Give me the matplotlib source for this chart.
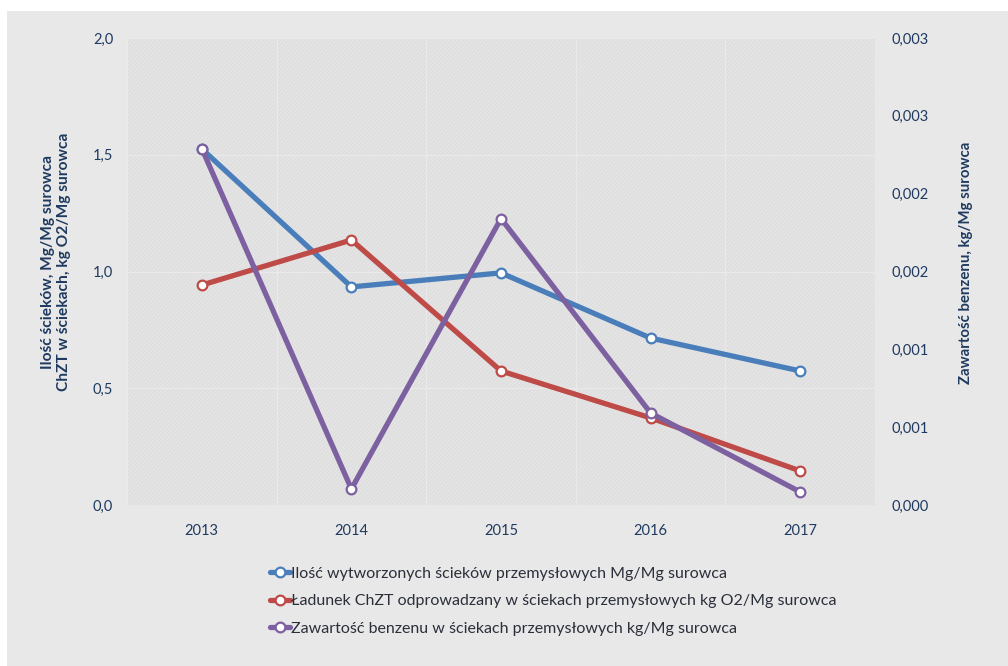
import matplotlib.pyplot as plt
from matplotlib.patches import Rectangle
from matplotlib.ticker import FuncFormatter, MultipleLocator
import numpy as np

years = ["2013", "2014", "2015", "2016", "2017"]
scieki = [1.525, 0.934, 0.994, 0.715, 0.574]
chzt = [0.942, 1.135, 0.574, 0.373, 0.146]
benzen = [0.00229, 0.000103, 0.00184, 0.000591, 0.0000835]

labels = [
    "Ilość wytworzonych ścieków przemysłowych Mg/Mg surowca",
    "Ładunek ChZT odprowadzany w ściekach przemysłowych kg O2/Mg surowca",
    "Zawartość benzenu w ściekach przemysłowych kg/Mg surowca",
]
colors = ["#4a7ebb", "#be4b48", "#7d60a0"]
txt = "#1f3a60"

plt.rcParams['font.family'] = ['Lato', 'DejaVu Sans']
plt.rcParams['hatch.color'] = "#dcdcdc"
plt.rcParams['hatch.linewidth'] = 0.6

fig = plt.figure(figsize=(10.08, 6.66), dpi=100)
fig.patch.set_facecolor("white")
fig.patches.append(Rectangle((7 / 1008, 0), 1, 1 - 11 / 666, transform=fig.transFigure,
                             facecolor="#e8e8e8", edgecolor="none", zorder=-10))

ax = fig.add_axes([127 / 1008, 1 - 505 / 666, 748 / 1008, 467 / 666])
ax.set_facecolor("#e4e4e4")
ax.add_patch(Rectangle((0, 0), 1, 1, transform=ax.transAxes, facecolor="none",
                       hatch="////////", linewidth=0, zorder=0))

x = np.arange(len(years))
style = dict(linewidth=3.8, marker="o", markersize=7, markerfacecolor="white",
             markeredgewidth=1.6, solid_capstyle="round", zorder=3)
l1, = ax.plot(x, scieki, color=colors[0], markeredgecolor=colors[0], label=labels[0], **style)
l2, = ax.plot(x, chzt, color=colors[1], markeredgecolor=colors[1], label=labels[1], **style)

ax.set_xlim(-0.5, len(years) - 0.5)
ax.set_ylim(0, 2.0)
ax.yaxis.set_major_locator(MultipleLocator(0.5))
ax.yaxis.set_major_formatter(FuncFormatter(lambda v, p: f"{v:.1f}".replace(".", ",")))
ax.set_xticks(x)
ax.set_xticklabels(years)
ax.set_xticks(np.arange(-0.5, len(years), 1.0), minor=True)
ax.grid(True, which="minor", axis="x", color="#eaeaea", linewidth=0.8)
ax.grid(True, which="major", axis="y", color="#eaeaea", linewidth=0.8)
ax.tick_params(which="both", length=0)
ax.tick_params(axis="x", pad=14, labelsize=10.5, labelcolor=txt)
ax.tick_params(axis="y", pad=10, labelsize=10.5, labelcolor=txt)
for s in ax.spines.values():
    s.set_visible(False)
ax.set_axisbelow(True)

ax2 = ax.twinx()
l3, = ax2.plot(x, benzen, color=colors[2], markeredgecolor=colors[2], label=labels[2], **style)
ax2.set_ylim(0, 0.003)
ax2.yaxis.set_major_locator(MultipleLocator(0.0005))
ax2.yaxis.set_major_formatter(FuncFormatter(lambda v, p: f"{v:.3f}".replace(".", ",")))
ax2.tick_params(length=0, pad=12, labelsize=10.5, labelcolor=txt)
for s in ax2.spines.values():
    s.set_visible(False)

fig.text(56 / 1008, 1 - 262 / 666, "Ilość ścieków, Mg/Mg surowca\nChZT w ściekach, kg O2/Mg surowca",
         rotation=90, ha="center", va="center", fontsize=11.2, fontweight="bold",
         color=txt, linespacing=1.1)
fig.text(966 / 1008, 1 - 263 / 666, "Zawartość benzenu, kg/Mg surowca",
         rotation=90, ha="center", va="center", fontsize=10.8, fontweight="bold", color=txt)

fig.legend(handles=[l1, l2, l3], loc="upper left", bbox_to_anchor=(264 / 1008, 1 - 560 / 666),
           frameon=False, fontsize=11.5, handlelength=1.2, handletextpad=0.1,
           labelspacing=0.85, labelcolor="#2b2f3a", borderaxespad=0)

fig.savefig("out.png", dpi=100, facecolor=fig.get_facecolor())
